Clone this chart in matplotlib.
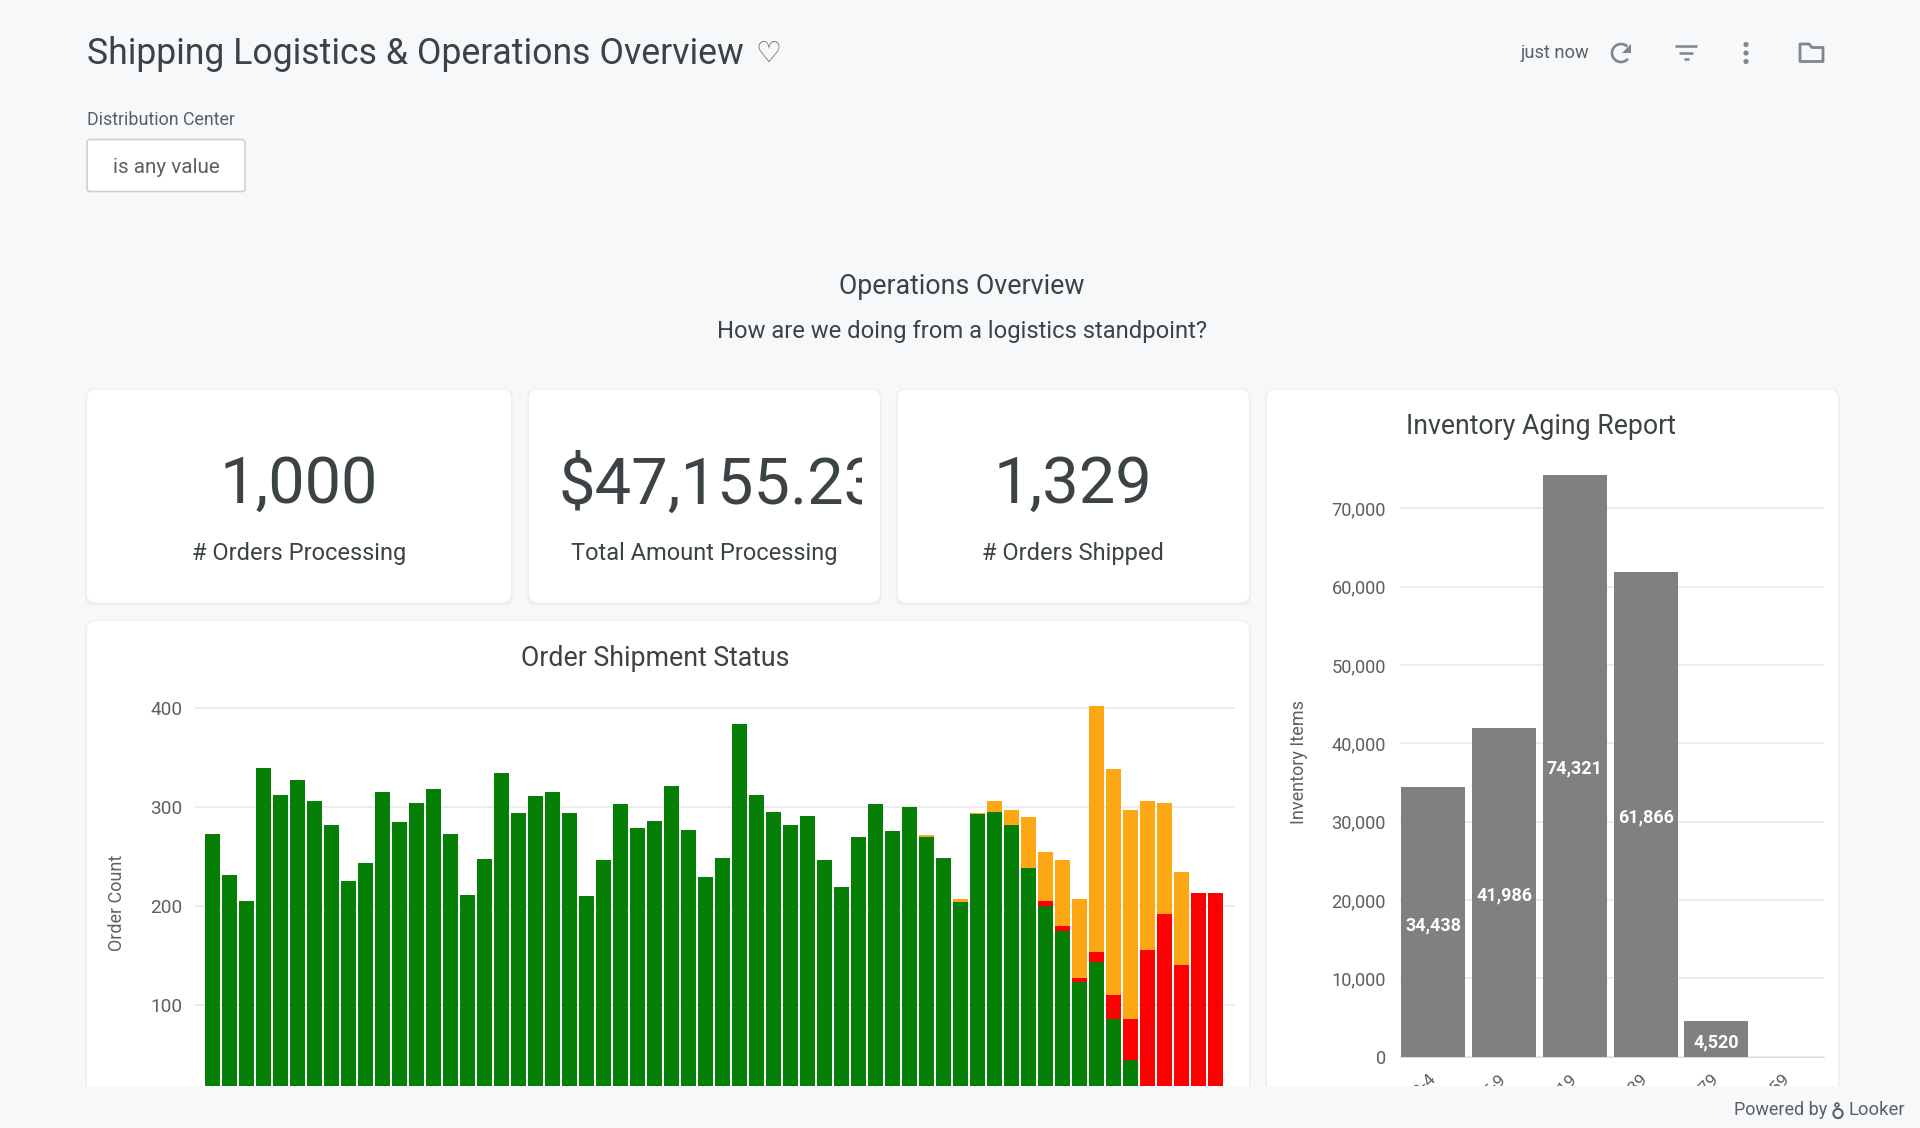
import matplotlib
matplotlib.use("Agg")
import matplotlib.pyplot as plt
from matplotlib.patches import FancyBboxPatch, Rectangle, Circle, Polygon, Arc

# ---------- data ----------
shipment_green = [273, 231, 205, 339, 312, 327, 306, 282, 225, 243,
                  315, 285, 304, 318, 273, 211, 247, 334, 294, 311,
                  315, 294, 210, 246, 303, 279, 286, 321, 277, 229,
                  249, 384, 312, 295, 282, 291, 246, 219, 270, 303,
                  276, 300, 270, 249, 204, 293, 295, 282, 238, 200,
                  175, 124, 144, 86, 45, 0, 0, 0, 0, 0]
shipment_red = [0] * 49 + [5, 5, 4, 10, 24, 41, 156, 192, 141, 213, 213]
shipment_orange = [0] * 42 + [2, 0, 3, 1, 11, 15, 52, 50, 66, 79, 248, 228, 211, 150, 112, 93, 0, 0]
shipment_ticks = [100, 200, 300, 400]

aging_tiers = ["0-4", "5-9", "10-19", "20-39", "40-79", "80-159"]
aging_values = [34438, 41986, 74321, 61866, 4520, 0]
aging_ticks = [0, 10000, 20000, 30000, 40000, 50000, 60000, 70000]

kpi_values = ["1,000", "$47,155.23", "1,329"]
kpi_labels = ["# Orders Processing", "Total Amount Processing", "# Orders Shipped"]

# ---------- style ----------
W, H = 1920, 1128
BG = "#f6f8fa"
DARK = "#3c4346"
MID = "#5a6064"
ICON = "#80868b"
GRID = "#e9ebee"
GREEN, RED, ORANGE, GREY = "#067f06", "#ff0000", "#fda714", "#808080"
plt.rcParams["font.family"] = ["Roboto", "DejaVu Sans"]


def pt(px):
    return px * 72 / 100


fig = plt.figure(figsize=(W / 100, H / 100), dpi=100, facecolor=BG)


def axes_px(x0, y0, x1, y1, **kw):
    return fig.add_axes([x0 / W, 1 - y1 / H, (x1 - x0) / W, (y1 - y0) / H], **kw)


bg = axes_px(0, 0, W, H, zorder=0)
bg.set_xlim(0, W)
bg.set_ylim(H, 0)
bg.axis("off")


def card(x0, y0, x1, y1, r=9):
    for grow, col in [(2.0, "#f0f2f4"), (1.0, "#eceef0")]:
        bg.add_patch(FancyBboxPatch((x0 - grow + r, y0 - grow + r + 1), x1 - x0 + 2 * grow - 2 * r,
                                    y1 - y0 + 2 * grow - 2 * r,
                                    boxstyle=f"round,pad={r}", fc=col, ec="none"))
    bg.add_patch(FancyBboxPatch((x0 + r, y0 + r), x1 - x0 - 2 * r, y1 - y0 - 2 * r,
                                boxstyle=f"round,pad={r}", fc="white", ec="none"))


def label(x, y, s, size, color=DARK, ha="center", ax=bg, **kw):
    return ax.text(x, y + 2.2, s, fontsize=pt(size), color=color, ha=ha, va="center", **kw)


# ---------- cards ----------
card(87, 389.5, 511, 602.5)
card(529, 389.5, 880, 602.5)
card(897.5, 389.5, 1249, 602.5)
card(87, 621, 1249, 1130)
card(1267, 389.5, 1838, 1130)

# ---------- header ----------
label(87, 52, "Shipping Logistics & Operations Overview", 35.6, ha="left")
label(768.5, 52, "\u2661", 29, color=MID, family="DejaVu Sans")
label(87, 118, "Distribution Center", 17.9, color=MID, ha="left")
bg.add_patch(FancyBboxPatch((90, 142.5), 152, 46, boxstyle="round,pad=3",
                            fc="white", ec="#cdd0d3", lw=1.2))
label(166, 165, "is any value", 20.7, color=MID)

label(1554.5, 51, "just now", 18.3, color=MID)
# refresh icon
bg.add_patch(Arc((1621, 53), 18, 18, theta1=-320, theta2=-45, ec=ICON, lw=1.9))
bg.add_patch(Polygon([[1631, 44], [1631, 53], [1622, 53]], closed=True, fc=ICON, ec="none"))
# filter icon
for half, yy in [(11, 46), (7, 52.5), (2.5, 59)]:
    bg.plot([1686 - half, 1686 + half], [yy, yy], color=ICON, lw=1.8, solid_capstyle="butt")
# dots icon
for yy in [44.5, 53, 61.5]:
    bg.add_patch(Circle((1746, yy), 2.6, fc=ICON, ec="none"))
# folder icon
bg.add_patch(Polygon([[1800, 44], [1809, 44], [1812, 47.5], [1823, 47.5], [1823, 61.5], [1800, 61.5]],
                     closed=True, fc="none", ec=ICON, lw=2, joinstyle="round"))

label(962, 284, "Operations Overview", 26.8)
label(962, 329.5, "How are we doing from a logistics standpoint?", 23.8)

# ---------- KPI tiles ----------
label(299, 483, kpi_values[0], 65)
label(299, 551, kpi_labels[0], 23.6)
big = label(558, 483, kpi_values[1], 65, ha="left")
big.set_clip_path(Rectangle((545, 400), 317, 160, transform=bg.transData))
big.set_clip_on(True)
label(704, 551, kpi_labels[1], 23.6)
label(1073, 483, kpi_values[2], 65)
label(1073, 551, kpi_labels[2], 23.6)

label(655.5, 656, "Order Shipment Status", 26.8)
label(1540.5, 424, "Inventory Aging Report", 26.6)

# ---------- order shipment chart ----------
ax1 = axes_px(194.8, 687.9, 1234.6, 1104.5, zorder=1)
ax1.patch.set_alpha(0)
xs = list(range(len(shipment_green)))
bar_w = 15 / 17
bot_red = shipment_green
bot_orange = [g + r for g, r in zip(shipment_green, shipment_red)]
ax1.bar(xs, shipment_green, width=bar_w, color=GREEN, zorder=3)
ax1.bar(xs, shipment_red, bottom=bot_red, width=bar_w, color=RED, zorder=3)
ax1.bar(xs, shipment_orange, bottom=bot_orange, width=bar_w, color=ORANGE, zorder=3)
ax1.set_xlim(-1.024, 60.14)
ax1.set_ylim(0, 420)
ax1.set_yticks(shipment_ticks)
ax1.set_yticklabels([str(v) for v in shipment_ticks])
ax1.set_xticks([])
ax1.grid(axis="y", color=GRID, lw=1.3, zorder=0)
ax1.tick_params(axis="y", length=0, pad=12 * 0.72, labelsize=pt(19), labelcolor=MID)
for s in ax1.spines.values():
    s.set_visible(False)
label(117, 900.5, "Order Count", 18, color=MID, rotation=90)

# ---------- inventory aging chart ----------
ax2 = axes_px(1399.5, 462, 1823.8, 1056.8, zorder=1)
ax2.patch.set_alpha(0)
pos = [i + 0.5 for i in range(len(aging_values))]
ax2.bar(pos, aging_values, width=0.905, color=GREY, zorder=3)
ax2.set_xlim(0.02, 6.02)
ax2.set_ylim(0, 75920)
ax2.set_yticks(aging_ticks)
ax2.set_yticklabels([f"{v:,}" for v in aging_ticks])
ax2.set_xticks(pos)
ax2.set_xticklabels(aging_tiers, rotation=45, ha="right", va="center", rotation_mode="anchor")
ax2.grid(axis="y", color=GRID, lw=1.3, zorder=0)
ax2.tick_params(axis="y", length=0, pad=13.5 * 0.72, labelsize=pt(18.3), labelcolor=MID)
ax2.tick_params(axis="x", length=0, pad=20 * 0.72, labelsize=pt(17.5), labelcolor=MID)
for s in ax2.spines.values():
    s.set_visible(False)
ax2.spines["bottom"].set_visible(True)
ax2.spines["bottom"].set_color("#d9dce0")
for p, v in zip(pos, aging_values):
    if v:
        ax2.annotate(f"{v:,}", (p, v / 2), xytext=(0, -2.2), textcoords="offset points",
                     color="white", fontsize=pt(18), fontweight="bold",
                     ha="center", va="center", zorder=5)
label(1299, 760, "Inventory Items", 18, color=MID, rotation=90)

# ---------- footer (hides the rest of the scrolled page) ----------
top = axes_px(0, 0, W, H, zorder=5)
top.set_xlim(0, W)
top.set_ylim(H, 0)
top.axis("off")
top.add_patch(Rectangle((0, 1086), W, H - 1086, fc=BG, ec="none"))
label(1734.5, 1107.5, "Powered by", 18, color=MID, ha="left", ax=top)
top.add_patch(Circle((1838, 1113.5), 4.6, fc="none", ec=MID, lw=1.5))
top.add_patch(Circle((1837, 1105), 1.9, fc="none", ec=MID, lw=1.2))
label(1849, 1107.5, "Looker", 18.5, color=MID, ha="left", ax=top)

fig.savefig("out.png", dpi=100, facecolor=BG)
